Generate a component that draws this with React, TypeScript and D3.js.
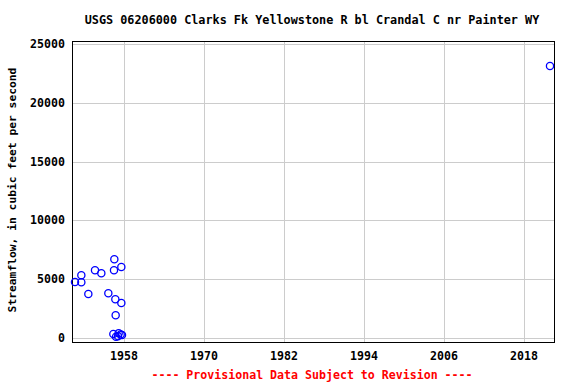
import React, { useEffect, useRef } from "react";
import * as d3 from "d3";

// peak streamflow observations (decimal year, cfs)
const years = [
  1950.65, 1951.6, 1951.6, 1952.65, 1953.65, 1954.6, 1955.65, 1956.55, 1956.5,
  1957.6, 1956.7, 1957.6, 1956.75, 1956.4, 1956.8, 1957.2, 1957.5, 1957.1,
  1957.7, 2021.9,
];
const flows = [
  4760, 5330, 4740, 3740, 5760, 5500, 3800, 6690, 5760, 6040, 3290, 2980, 1930,
  350, 100, 400, 300, 150, 250, 23130,
];
const yearTicks = [1958, 1970, 1982, 1994, 2006, 2018];
const flowTicks = [0, 5000, 10000, 15000, 20000, 25000];

const title = "USGS 06206000 Clarks Fk Yellowstone R bl Crandal C nr Painter WY";
const yLabel = "Streamflow, in cubic feet per second";
const footer = "---- Provisional Data Subject to Revision ----";

export default function App() {
  const svgRef = useRef<SVGSVGElement>(null);
  const width = 576;
  const height = 384;

  useEffect(() => {
    const svg = d3.select(svgRef.current);
    svg.selectAll("*").remove();

    const font = "'DejaVu Sans Mono', monospace";
    const left = 72, right = 554, top = 41, bottom = 342;

    const x = d3.scaleLinear().domain([1950.2, 2022.5]).range([left, right]);
    const y = d3.scaleLinear().domain([-340, 25250]).range([bottom, top]);

    svg.append("rect").attr("width", width).attr("height", height).attr("fill", "white");

    // grid
    svg.append("g")
      .selectAll("line")
      .data(flowTicks)
      .join("line")
      .attr("x1", left).attr("x2", right)
      .attr("y1", d => Math.round(y(d)) + 0.5).attr("y2", d => Math.round(y(d)) + 0.5)
      .attr("stroke", "#cccccc");
    svg.append("g")
      .selectAll("line")
      .data(yearTicks)
      .join("line")
      .attr("y1", top).attr("y2", bottom)
      .attr("x1", d => Math.round(x(d)) + 0.5).attr("x2", d => Math.round(x(d)) + 0.5)
      .attr("stroke", "#cccccc");

    // box
    svg.append("rect")
      .attr("x", left + 0.5).attr("y", top + 0.5)
      .attr("width", right - left).attr("height", bottom - top)
      .attr("fill", "none").attr("stroke", "black");

    // tick labels
    svg.append("g")
      .selectAll("text")
      .data(flowTicks)
      .join("text")
      .attr("x", left - 7).attr("y", d => y(d) + 4)
      .attr("text-anchor", "end")
      .attr("font-family", font).attr("font-weight", "bold").attr("font-size", 11.6)
      .text(d => String(d));
    svg.append("g")
      .selectAll("text")
      .data(yearTicks)
      .join("text")
      .attr("x", d => x(d)).attr("y", 360)
      .attr("text-anchor", "middle")
      .attr("font-family", font).attr("font-weight", "bold").attr("font-size", 11.6)
      .text(d => String(d));

    // points
    svg.append("g")
      .selectAll("circle")
      .data(years.map((yr, i) => [yr, flows[i]]))
      .join("circle")
      .attr("cx", d => x(d[0])).attr("cy", d => y(d[1]))
      .attr("r", 3.6)
      .attr("fill", "none").attr("stroke", "#0000ff").attr("stroke-width", 1.3);

    // titles
    svg.append("text")
      .attr("x", 312).attr("y", 24)
      .attr("text-anchor", "middle")
      .attr("font-family", font).attr("font-weight", "bold").attr("font-size", 11.8)
      .text(title);
    svg.append("text")
      .attr("transform", "translate(16,190) rotate(-90)")
      .attr("text-anchor", "middle")
      .attr("font-family", font).attr("font-weight", "bold").attr("font-size", 11.3)
      .text(yLabel);
    svg.append("text")
      .attr("x", 312).attr("y", 379)
      .attr("text-anchor", "middle")
      .attr("font-family", font).attr("font-weight", "bold").attr("font-size", 11.6)
      .attr("fill", "#ff0000")
      .text(footer);
  }, []);

  return (
    <svg
      ref={svgRef}
      width={width}
      height={height}
      style={{ position: "absolute", left: 0, top: 0, display: "block" }}
    />
  );
}
